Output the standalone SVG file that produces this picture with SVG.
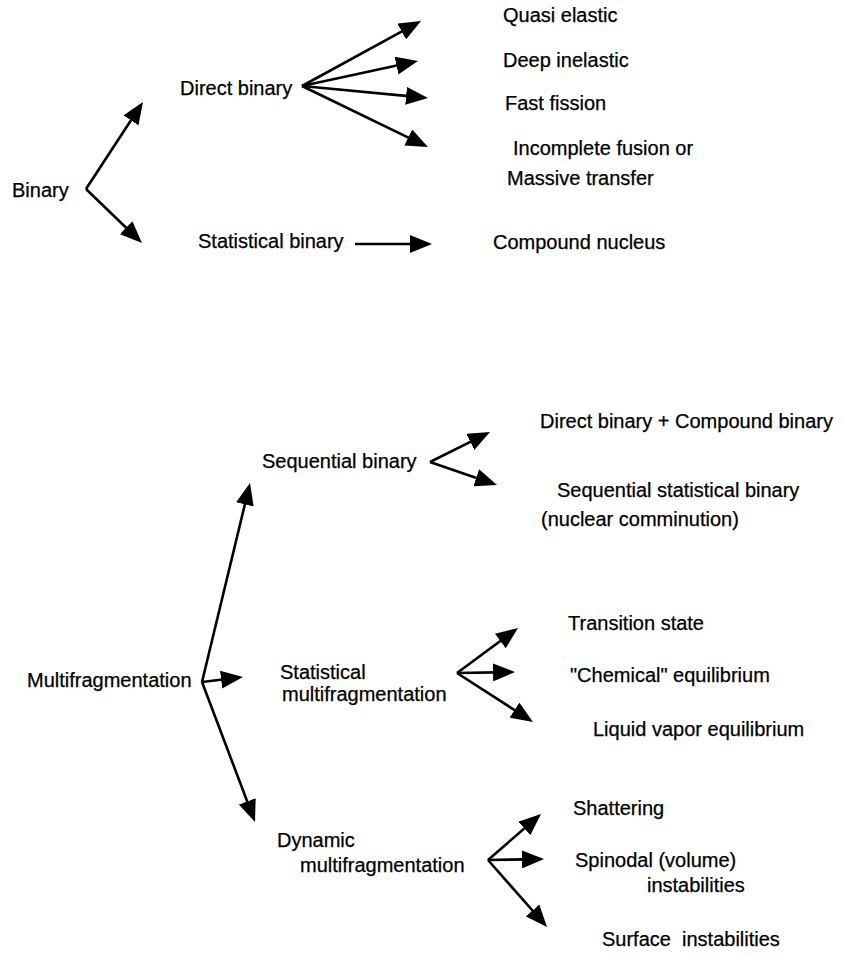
<svg xmlns="http://www.w3.org/2000/svg" width="844" height="954" viewBox="0 0 844 954">
<style>
text{font-family:"Liberation Sans",Arial,sans-serif;font-size:20px;fill:#000;stroke:#000;stroke-width:0.25}
.c line{stroke:#000;stroke-width:2.6;fill:none;marker-end:url(#ah)}
</style>
<defs>
<marker id="ah" viewBox="0 0 22 18" refX="18" refY="9" markerWidth="22" markerHeight="18" markerUnits="userSpaceOnUse" orient="auto">
<path d="M0,0 L22,9 L0,18 z" fill="#000"/>
</marker>
</defs>
<rect width="844" height="954" fill="#fff"/>
<g id="connectors" class="c">
<line x1="86" y1="189" x2="140.8" y2="105.3"/>
<line x1="86" y1="189" x2="139.1" y2="240.2"/>
<line x1="302" y1="86" x2="417.5" y2="22.9"/>
<line x1="302" y1="86" x2="414.1" y2="61.8"/>
<line x1="302" y1="86" x2="424" y2="97.6"/>
<line x1="302" y1="86" x2="424.4" y2="145.3"/>
<line x1="355" y1="244" x2="428" y2="244"/>
<line x1="430" y1="462" x2="486.4" y2="433.8"/>
<line x1="430" y1="462" x2="493.2" y2="483.7"/>
<line x1="202" y1="682" x2="249.1" y2="486.9"/>
<line x1="202" y1="682" x2="239" y2="677.5"/>
<line x1="202" y1="682" x2="253.6" y2="818.3"/>
<line x1="457" y1="673" x2="514.8" y2="630.4"/>
<line x1="457" y1="673" x2="511" y2="672.1"/>
<line x1="457" y1="673" x2="529.6" y2="719.8"/>
<line x1="488" y1="860" x2="538" y2="816.6"/>
<line x1="488" y1="860" x2="540" y2="859.1"/>
<line x1="488" y1="860" x2="544.4" y2="924"/>
</g>
<g id="binary"><text x="12" y="197">Binary</text></g>
<g id="direct-binary"><text x="180" y="95">Direct binary</text></g>
<g id="statistical-binary"><text x="198" y="248">Statistical binary</text></g>
<g id="quasi-elastic"><text x="503" y="22">Quasi elastic</text></g>
<g id="deep-inelastic"><text x="503" y="67">Deep inelastic</text></g>
<g id="fast-fission"><text x="505" y="110">Fast fission</text></g>
<g id="incomplete-fusion"><text x="513" y="155">Incomplete fusion or</text><text x="507" y="185">Massive transfer</text></g>
<g id="compound-nucleus"><text x="493" y="249">Compound nucleus</text></g>
<g id="sequential-binary"><text x="262" y="468">Sequential binary</text></g>
<g id="direct-compound"><text x="540" y="428">Direct binary + Compound binary</text></g>
<g id="seq-stat-binary"><text x="557" y="497">Sequential statistical binary</text><text x="541" y="526">(nuclear comminution)</text></g>
<g id="multifragmentation"><text x="27" y="687">Multifragmentation</text></g>
<g id="statistical-multi"><text x="280" y="679">Statistical</text><text x="282" y="701">multifragmentation</text></g>
<g id="transition-state"><text x="568" y="630">Transition state</text></g>
<g id="chemical-eq"><text x="570" y="682">"Chemical" equilibrium</text></g>
<g id="liquid-vapor"><text x="593" y="736">Liquid vapor equilibrium</text></g>
<g id="dynamic-multi"><text x="277" y="847">Dynamic</text><text x="300" y="872">multifragmentation</text></g>
<g id="shattering"><text x="573" y="815">Shattering</text></g>
<g id="spinodal"><text x="575" y="867">Spinodal (volume)</text><text x="647" y="892">instabilities</text></g>
<g id="surface"><text x="602" y="946" xml:space="preserve">Surface  instabilities</text></g>
</svg>
